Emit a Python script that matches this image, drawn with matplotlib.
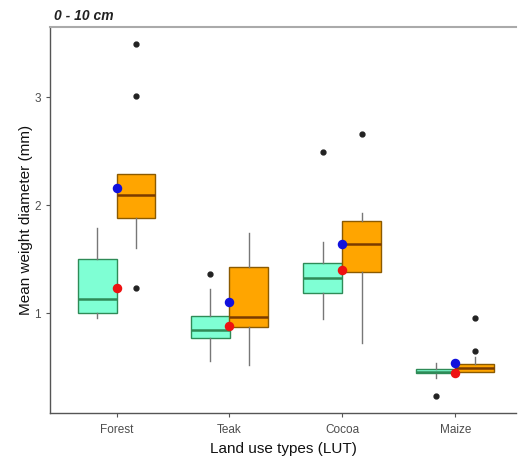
import matplotlib
matplotlib.use("Agg")
import matplotlib.pyplot as plt

plt.rcParams['font.family'] = ['Liberation Sans', 'DejaVu Sans']

lut = ["Forest", "Teak", "Cocoa", "Maize"]

# group A (aquamarine) box stats: low whisker, q1, median, q3, high whisker
a_low = [0.95, 0.56, 0.94, 0.40]
a_q1 = [1.00, 0.77, 1.19, 0.44]
a_med = [1.13, 0.84, 1.32, 0.455]
a_q3 = [1.50, 0.97, 1.46, 0.48]
a_high = [1.79, 1.22, 1.66, 0.54]
a_out = [[], [1.36], [2.49], [0.23]]
a_mean = [1.23, 0.88, 1.40, 0.44]

# group B (orange) box stats
b_low = [1.60, 0.52, 0.72, 0.45]
b_q1 = [1.88, 0.87, 1.38, 0.45]
b_med = [2.09, 0.96, 1.64, 0.49]
b_q3 = [2.29, 1.43, 1.85, 0.53]
b_high = [2.29, 1.74, 1.93, 0.59]
b_out = [[3.49, 3.01, 1.23], [], [2.66], [0.65, 0.95]]
b_mean = [2.16, 1.10, 1.64, 0.54]

fig = plt.figure(figsize=(5.18, 4.59), dpi=100)
ax = fig.add_axes([0.0965, 0.1002, 0.90, 0.8408])

pos = [1, 2, 3, 4]
off = 0.172
w = 0.345


def stats(low, q1, med, q3, high, out):
    return [dict(whislo=low[i], q1=q1[i], med=med[i], q3=q3[i], whishi=high[i],
                 fliers=out[i]) for i in range(len(low))]


groups = [
    (stats(a_low, a_q1, a_med, a_q3, a_high, a_out), -off, "#7FFFD4", "#2E8B57", "#2E8B57"),
    (stats(b_low, b_q1, b_med, b_q3, b_high, b_out), off, "#FFA500", "#8B5A00", "#7A3B00"),
]
for st, dx, fc, ec, mc in groups:
    ax.bxp(st, positions=[p + dx for p in pos], widths=w, patch_artist=True,
           showcaps=False,
           boxprops=dict(facecolor=fc, edgecolor=ec, linewidth=1.0),
           medianprops=dict(color=mc, linewidth=1.8),
           whiskerprops=dict(color="#777777", linewidth=1.0),
           flierprops=dict(marker="o", markerfacecolor="#222222", markeredgecolor="#222222",
                           markersize=3.5))

ax.scatter(pos, a_mean, s=34, color="#EE1111", zorder=5)
ax.scatter(pos, b_mean, s=34, color="#1111DD", zorder=5)

ax.set_xlim(0.41, 4.54)
ax.set_ylim(0.074, 3.648)
ax.set_xticks(pos)
ax.set_xticklabels(lut)
ax.set_yticks([1, 2, 3])
ax.set_yticklabels(["1", "2", "3"])
ax.tick_params(colors="#555555", labelsize=8.5, length=3, labelcolor="#4D4D4D")
ax.tick_params(axis="x", pad=5)

for s in ["left", "bottom"]:
    ax.spines[s].set_color("#555555")
    ax.spines[s].set_linewidth(1.0)
ax.spines["right"].set_visible(False)
ax.spines["top"].set_color("#AAAAAA")
ax.spines["top"].set_linewidth(1.5)

ax.set_xlabel("Land use types (LUT)", fontsize=11, color="#111111", labelpad=4)
ax.set_ylabel("Mean weight diameter (mm)", fontsize=11, color="#111111", labelpad=1)
fig.text(0.105, 0.965, "0 - 10 cm", fontsize=10, fontweight="bold", fontstyle="italic",
         color="#222222", va="center")

fig.savefig("out.png", dpi=100)
